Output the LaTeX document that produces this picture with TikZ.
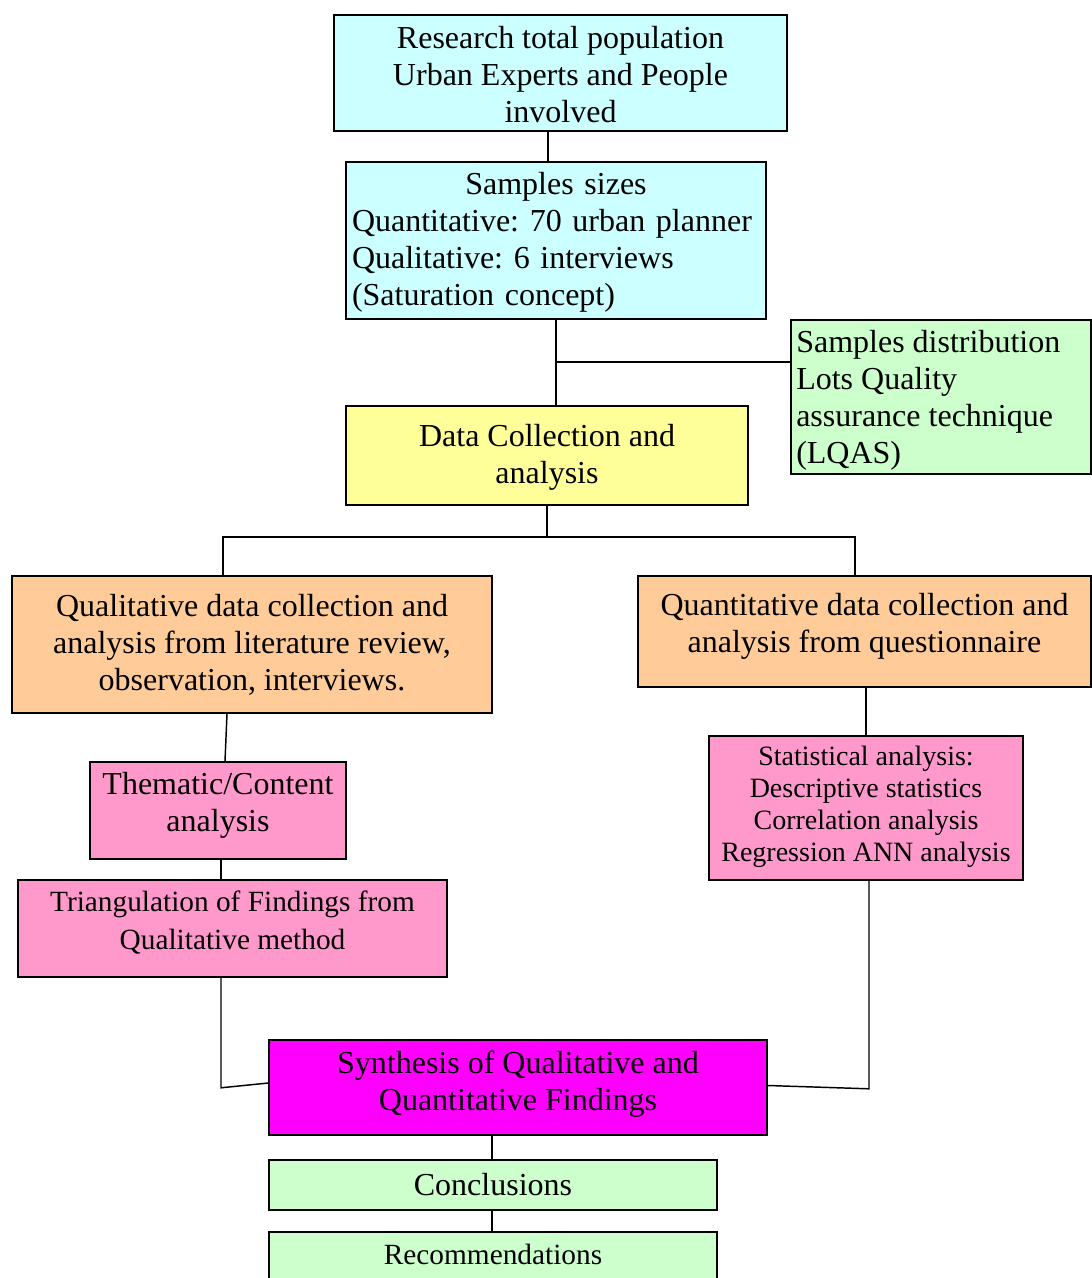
\documentclass[tikz,border=0pt]{standalone}
\usepackage{fontspec}
\setmainfont{Liberation Serif}
\usetikzlibrary{calc}
\definecolor{ccyan}{HTML}{CCFFFF}
\definecolor{cgreen}{HTML}{CCFFCC}
\definecolor{cyellow}{HTML}{FFFF99}
\definecolor{corange}{HTML}{FFCC99}
\definecolor{cpink}{HTML}{FF99CC}
\definecolor{cmag}{HTML}{FF00FF}
\tikzset{
  bx/.style={draw, line width=1.2pt, inner sep=0pt, rectangle},
  tx/.style={inner sep=0pt, align=center, font=\frenchspacing\fontsize{24pt}{27.75pt}\selectfont},
  txs/.style={inner sep=0pt, align=center, font=\frenchspacing\fontsize{21pt}{24pt}\selectfont},
  txm/.style={inner sep=0pt, align=center, font=\frenchspacing\fontsize{22pt}{28.5pt}\selectfont},
  ln/.style={line width=1.1pt},
}
\newcommand\mybx[6]{%
  \node[bx, fill=#6, minimum width={(#4-#2)*0.75pt}, minimum height={(#5-#3)*0.75pt}] (#1) at ({(#2+#4)/2},{(#3+#5)/2}) {};}
\begin{document}
\frenchspacing
\begin{tikzpicture}[x=0.75pt,y=-0.75pt]
\useasboundingbox (0,0) rectangle (1092,1278);
% boxes
\mybx{top}{334}{15}{787}{131}{ccyan}
\mybx{samp}{346}{162}{766}{319}{ccyan}
\mybx{dist}{791}{320}{1091}{474}{cgreen}
\mybx{data}{346}{406}{748}{505}{cyellow}
\mybx{qual}{12}{576}{492}{713}{corange}
\mybx{quant}{638}{576}{1091}{687}{corange}
\mybx{them}{90}{762}{346}{859}{cpink}
\mybx{stat}{709}{736}{1023}{880}{cpink}
\mybx{tri}{18}{880}{447}{977}{cpink}
\mybx{synth}{269}{1040}{767}{1135}{cmag}
\mybx{conc}{269}{1160}{717}{1210}{cgreen}
\mybx{rec}{269}{1232}{717}{1282}{cgreen}
% texts
\node[tx] (top-t) at (560.5,75) {Research total population\\Urban Experts and People\\involved};
\node[tx, align=left, text width=306pt] (samp-t) at (556,242) {\makebox[\linewidth][c]{Samples sizes}\\Quantitative: 70 urban planner\\Qualitative: 6 interviews\\(Saturation concept)};
\node[tx, align=left, anchor=west] (dist-t) at (796,400) {Samples distribution\\Lots Quality\\assurance technique\\(LQAS)};
\node[tx] (data-t) at (547,457) {Data Collection and\\analysis};
\node[tx] (qual-t) at (252,645) {Qualitative data collection and\\analysis from literature review,\\observation, interviews.};
\node[tx] (quant-t) at (864.5,626) {Quantitative data collection and\\analysis from questionnaire};
\node[tx] (them-t) at (218,805) {Thematic/Content\\analysis};
\node[txs] (stat-t) at (866,807) {Statistical analysis:\\Descriptive statistics\\Correlation analysis\\Regression ANN analysis};
\node[txm] (tri-t) at (232.5,923) {Triangulation of Findings from\\Qualitative method};
\node[tx] (synth-t) at (518,1084) {Synthesis of Qualitative and\\Quantitative Findings};
\node[tx] (conc-t) at (493,1185) {Conclusions};
\node[txm] (rec-t) at (493,1254) {Recommendations};
% connectors
\draw[ln] ($(top.south)+(-12.5,0)$) -- ($(samp.north)+(-8,0)$);
\draw[ln] (samp.south) -- ($(data.north)+(9,0)$);
\coordinate (j1) at ($(dist.west)+(0,-35)$);
\draw[ln] (j1 -| samp.south) -- (j1);
\coordinate (j2) at ($(data.south)+(0,31)$);
\draw[ln] (data.south) -- (j2);
\draw[ln] ($(qual.north)+(-29,0)$) |- (j2) -| ($(quant.north)+(-9.5,0)$);
\draw[ln] ($(qual.south)+(-25,0)$) -- ($(them.north)+(7,0)$);
\draw[ln] ($(them.south)+(3,0)$) -- ($(tri.north)+(-11.5,0)$);
\draw[ln] ($(quant.south)+(1.5,0)$) -- (stat.north);
\coordinate (j3) at ($(tri.south)+(-11.5,110)$);
\draw[ln] ($(tri.south)+(-11.5,0)$) -- (j3) -- ($(synth.west)+(0,-4.5)$);
\coordinate (j4) at ($(stat.south)+(3,208)$);
\draw[ln] ($(stat.south)+(3,0)$) -- (j4) -- ($(synth.east)+(0,-2)$);
\draw[ln] ($(synth.south)+(-26,0)$) -- ($(conc.north)+(-1,0)$);
\draw[ln] ($(conc.south)+(-1,0)$) -- ($(rec.north)+(-1,0)$);
\end{tikzpicture}
\end{document}
